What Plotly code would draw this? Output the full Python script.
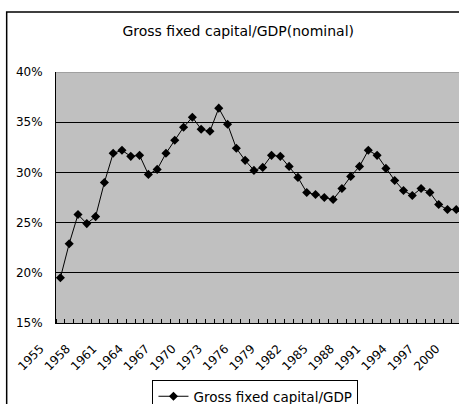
import plotly.graph_objects as go

years = list(range(1955, 2001))
ratio = [19.5, 22.9, 25.8, 24.9, 25.6, 29.0, 31.9, 32.2, 31.6, 31.7,
         29.8, 30.3, 31.9, 33.2, 34.5, 35.5, 34.3, 34.1, 36.4, 34.8,
         32.4, 31.2, 30.2, 30.5, 31.7, 31.6, 30.6, 29.5, 28.0, 27.8,
         27.5, 27.3, 28.4, 29.6, 30.6, 32.2, 31.7, 30.4, 29.2, 28.2,
         27.7, 28.4, 28.0, 26.8, 26.3, 26.3]
tick_years = list(range(1955, 2001, 3))
tick_text = [str(y) for y in tick_years]
y_ticks = [15, 20, 25, 30, 35, 40]
y_text = [f"{v}%" for v in y_ticks]

FONT = "DejaVu Sans"

fig = go.Figure()
fig.add_trace(go.Scatter(
    x=years, y=ratio, mode="lines+markers",
    name="Gross fixed capital/GDP",
    line=dict(color="black", width=1),
    marker=dict(symbol="diamond", size=7, color="black"),
    cliponaxis=False,
))

fig.update_layout(
    width=459, height=404,
    margin=dict(l=56, r=0, t=72, b=81, pad=0, autoexpand=False),
    paper_bgcolor="white",
    plot_bgcolor="#C0C0C0",
    font=dict(family=FONT, size=12, color="black"),
    title=dict(text="Gross fixed capital/GDP(nominal)", x=0.519, xref="container",
               xanchor="center", y=0.922, yref="container", yanchor="middle",
               font=dict(family=FONT, size=14, color="black")),
    showlegend=True,
    legend=dict(x=0.2394, xanchor="left", y=-0.227, yanchor="top",
                bordercolor="black", borderwidth=1, bgcolor="white",
                font=dict(family=FONT, size=13.5), itemwidth=30,
                tracegroupgap=0),
    xaxis=dict(range=[1954.5, 2000.31], tickmode="array", tickvals=tick_years,
               ticktext=tick_text, tickangle=-45, ticks="", showgrid=False,
               showline=True, linecolor="black", linewidth=1, zeroline=False,
               automargin=False, ticklabelshift=-20, ticklabelstandoff=13,
               minor=dict(tick0=1954.5, dtick=1, ticks="inside", ticklen=4,
                          tickcolor="black", showgrid=False),
               tickfont=dict(family=FONT, size=12)),
    yaxis=dict(range=[15, 40], tickmode="array", tickvals=y_ticks, ticktext=y_text,
               showgrid=True, gridcolor="black", gridwidth=1, zeroline=False,
               showline=True, linecolor="black", linewidth=1, ticks="",
               automargin=False,
               ticklabelstandoff=10, tickfont=dict(family=FONT, size=12)),
    shapes=[
        dict(type="line", xref="paper", yref="y", x0=0, x1=1, y0=40, y1=40,
             line=dict(color="#808080", width=1), layer="above"),
        dict(type="rect", xref="paper", yref="paper", x0=-0.1224, x1=1.2,
             y0=-0.6, y1=1.239, line=dict(color="black", width=1.5),
             fillcolor="rgba(0,0,0,0)"),
    ],
)

fig.write_html("out.html")
